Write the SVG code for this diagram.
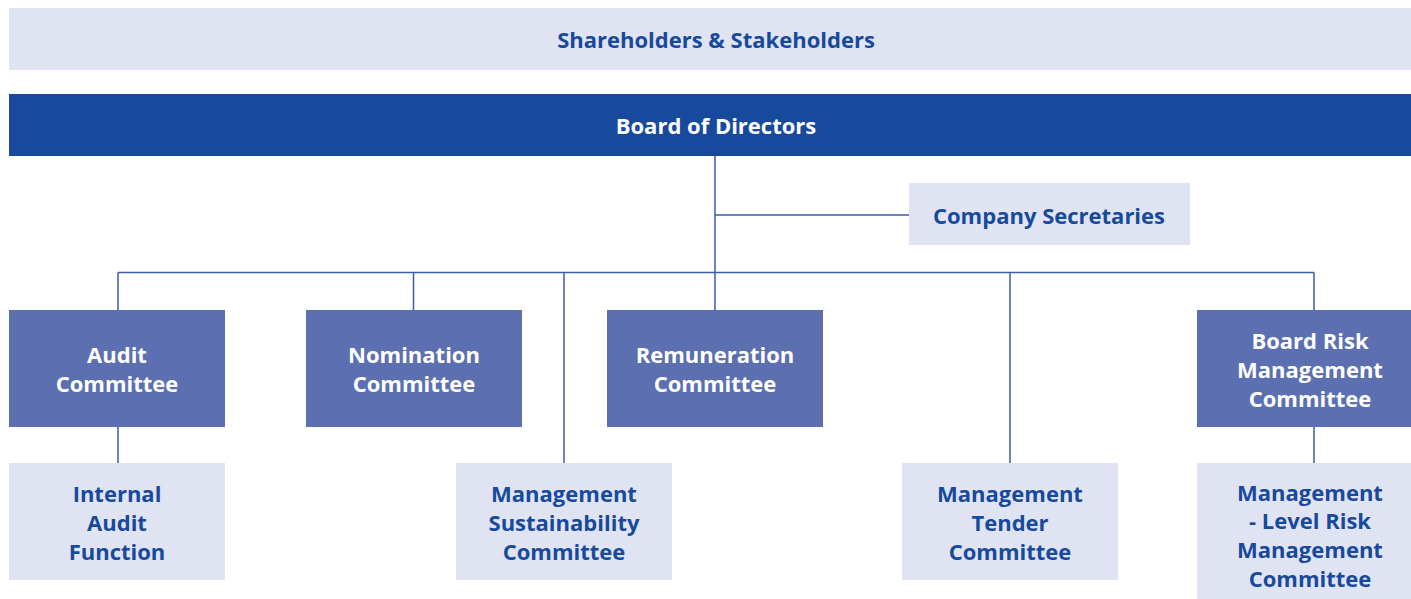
<svg xmlns="http://www.w3.org/2000/svg" width="1411" height="599" viewBox="0 0 1411 599">
<style>
.light{fill:#e0e3f2}
.mid{fill:#5b6fb1}
.dark{fill:#174a9c}
text{font-family:"Open Sans","Liberation Sans",sans-serif;font-weight:700;font-size:22px;text-anchor:middle}
.tl{fill:#174a9c}
.tw{fill:#ffffff}
.con{stroke:#3d5da9;stroke-width:1.5;fill:none}
</style>
<rect width="1411" height="599" fill="#ffffff"/>
<g id="connectors">
<path class="con" d="M715 156V310M715 215H909M118 272.5H1314M118 272.5V310M413.5 272.5V310M564 272.5V463M1010 272.5V463M1314 272.5V310M118 427V463M1314 427V463"/>
</g>
<g id="shareholders"><rect class="light" x="9" y="8" width="1402" height="62"/><text class="tl" x="716" y="48">Shareholders &amp; Stakeholders</text></g>
<g id="board"><rect class="dark" x="9" y="94" width="1402" height="62"/><text class="tw" x="716" y="134">Board of Directors</text></g>
<g id="secretaries"><rect class="light" x="909" y="183" width="281" height="62"/><text class="tl" x="1049" y="224">Company Secretaries</text></g>
<g id="audit"><rect class="mid" x="9" y="310" width="216" height="117"/><text class="tw" x="117" y="363">Audit</text><text class="tw" x="117" y="392">Committee</text></g>
<g id="nomination"><rect class="mid" x="306" y="310" width="216" height="117"/><text class="tw" x="414" y="363">Nomination</text><text class="tw" x="414" y="392">Committee</text></g>
<g id="remuneration"><rect class="mid" x="607" y="310" width="216" height="117"/><text class="tw" x="715" y="363">Remuneration</text><text class="tw" x="715" y="392">Committee</text></g>
<g id="boardrisk"><rect class="mid" x="1197" y="310" width="214" height="117"/><text class="tw" x="1310" y="349">Board Risk</text><text class="tw" x="1310" y="378">Management</text><text class="tw" x="1310" y="407">Committee</text></g>
<g id="internalaudit"><rect class="light" x="9" y="463" width="216" height="117"/><text class="tl" x="117" y="502">Internal</text><text class="tl" x="117" y="531">Audit</text><text class="tl" x="117" y="560">Function</text></g>
<g id="sustainability"><rect class="light" x="456" y="463" width="216" height="117"/><text class="tl" x="564" y="502">Management</text><text class="tl" x="564" y="531">Sustainability</text><text class="tl" x="564" y="560">Committee</text></g>
<g id="tender"><rect class="light" x="902" y="463" width="216" height="117"/><text class="tl" x="1010" y="502">Management</text><text class="tl" x="1010" y="531">Tender</text><text class="tl" x="1010" y="560">Committee</text></g>
<g id="mgmtrisk"><rect class="light" x="1197" y="463" width="214" height="136"/><text class="tl" x="1310" y="501">Management</text><text class="tl" x="1310" y="529">- Level Risk</text><text class="tl" x="1310" y="558">Management</text><text class="tl" x="1310" y="587">Committee</text></g>
</svg>
